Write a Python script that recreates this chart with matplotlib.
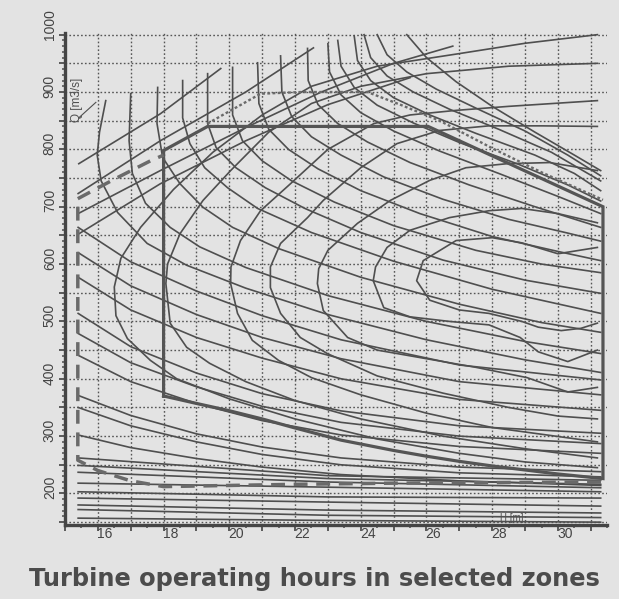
import matplotlib.pyplot as plt
from matplotlib.ticker import MultipleLocator
import matplotlib.transforms as mtransforms

# head H [m] on x, discharge Q [m3/s] on y

# efficiency contours, innermost first
eta1 = [(31.2, 629), (30.0, 618), (28.9, 637), (28.0, 646), (26.9, 641), (25.9, 606), (25.7, 571),
        (26.1, 537), (27.0, 520), (27.9, 514), (28.9, 500), (29.4, 490), (30.1, 484), (30.7, 488), (31.2, 497)]
eta2 = [(31.2, 672), (30.0, 688), (28.9, 697), (27.9, 693), (26.7, 681), (25.5, 659), (24.8, 629),
        (24.45, 595), (24.38, 571), (24.7, 524), (25.5, 508), (26.7, 500), (27.9, 494), (28.85, 472),
        (29.4, 447), (30.3, 430), (31.2, 450)]
eta3 = [(31.2, 763), (29.75, 777), (28.45, 775), (27.2, 768), (26.1, 746), (24.9, 711), (23.9, 671),
        (23.0, 624), (22.72, 592), (22.68, 566), (22.86, 519), (23.6, 472), (24.5, 450), (26.0, 435),
        (27.5, 420), (29.06, 402), (30.3, 377), (31.2, 385)]
eta4 = [(31.2, 840), (29.5, 841), (27.9, 841), (26.4, 833), (25.1, 810), (24.0, 768), (22.86, 711),
        (22.38, 681), (21.56, 636), (21.25, 595), (21.25, 559), (21.56, 514), (22.16, 472), (22.98, 444),
        (24.5, 405), (26.5, 375), (28.5, 350), (30.0, 335), (31.2, 330)]
eta5 = [(31.2, 885), (28.5, 875), (26.9, 868), (25.5, 860), (24.4, 845), (23.0, 800), (21.86, 740),
        (20.95, 693), (20.34, 641), (20.05, 595), (20.04, 566), (20.25, 514), (20.7, 467), (21.5, 432),
        (22.5, 402), (24.0, 372), (26.0, 340), (28.0, 315), (31.2, 290)]
eta6 = [(31.2, 950), (28.5, 945), (26.0, 932), (24.0, 910), (22.5, 880), (21.2, 830), (20.04, 763),
        (19.2, 711), (18.5, 653), (18.12, 600), (18.07, 566), (18.2, 497), (18.7, 455), (19.4, 427),
        (20.5, 395), (22.0, 362), (24.0, 330), (26.5, 300), (29.0, 278), (31.2, 262)]
eta7 = [(31.2, 1000), (29.0, 985), (27.0, 967), (24.5, 945), (22.5, 910), (21.0, 860), (19.5, 795),
        (18.3, 730), (17.3, 664), (16.7, 610), (16.5, 560), (16.55, 510), (16.9, 470), (17.6, 432),
        (18.4, 400), (20.0, 365), (22.0, 330), (24.5, 295), (27.0, 270), (29.0, 255), (31.2, 245)]
eta_curves = [eta1, eta2, eta3, eta4, eta5, eta6, eta7]

# rising guide vane lines, upper left
gv1 = [(15.42, 775), (17.9, 862), (19.74, 941)]
gv2 = [(15.4, 723), (17.9, 815), (20.5, 900), (22.56, 977)]
gv3 = [(15.4, 688), (17.9, 763), (20.5, 838), (22.8, 900), (25.0, 950), (26.8, 980)]
gv4 = [(15.4, 652), (17.9, 740), (20.5, 815), (23.0, 878), (25.5, 925)]
gv_lines = [gv1, gv2, gv3, gv4]

# blade lines: near vertical at the top, then sweeping down to the right
arc1 = [(16.24, 885), (16.05, 830), (15.98, 790), (16.1, 745), (16.6, 690), (17.5, 636), (18.7, 598),
        (20.5, 558), (23.0, 512), (26.0, 468), (29.0, 433), (31.3, 411)]
arc2 = [(17.0, 897), (16.95, 815), (17.05, 758), (17.45, 706), (18.2, 664), (19.1, 630), (20.5, 594),
        (23.0, 545), (26.0, 500), (29.0, 465), (31.3, 444)]
arc3 = [(17.82, 908), (17.8, 845), (17.97, 786), (18.5, 740), (19.2, 699), (20.1, 664), (21.5, 627),
        (24.0, 577), (27.0, 530), (29.5, 498), (31.3, 481)]
arc4 = [(18.58, 920), (18.58, 855), (18.8, 810), (19.25, 768), (19.95, 733), (20.86, 697), (22.5, 655),
        (25.0, 605), (28.0, 556), (31.3, 514)]
arc5 = [(19.34, 932), (19.34, 845), (19.6, 803), (20.2, 768), (21.1, 733), (22.3, 697), (24.0, 655),
        (26.5, 607), (29.0, 572), (31.3, 549)]
arc6 = [(20.1, 943), (20.1, 860), (20.4, 815), (21.0, 780), (21.9, 745), (23.2, 708), (25.0, 667),
        (27.5, 624), (29.5, 600), (31.3, 585)]
arc7 = [(20.86, 951), (20.9, 880), (21.2, 835), (21.8, 800), (22.7, 766), (24.0, 728), (25.8, 688),
        (28.0, 648), (30.0, 622), (31.3, 606)]
arc8 = [(21.56, 963), (21.6, 900), (21.9, 857), (22.5, 822), (23.4, 790), (24.7, 752), (26.5, 713),
        (28.5, 678), (30.3, 654), (31.3, 640)]
arc9 = [(22.38, 976), (22.4, 920), (22.7, 878), (23.3, 845), (24.2, 813), (25.5, 777), (27.3, 738),
        (29.3, 700), (31.3, 664)]
arc10 = [(23.0, 984), (23.05, 935), (23.4, 895), (24.0, 864), (25.0, 832), (26.4, 797), (28.2, 758),
         (30.0, 718), (31.3, 688)]
arc11 = [(23.3, 990), (23.4, 945), (23.8, 908), (24.5, 877), (25.6, 846), (27.0, 812), (28.8, 774),
         (30.3, 738), (31.3, 710)]
arc12 = [(23.8, 998), (23.9, 955), (24.3, 920), (25.0, 890), (26.1, 860), (27.5, 828), (29.3, 790),
         (30.5, 758), (31.3, 728)]
arc13 = [(24.1, 1000), (24.3, 960), (24.8, 928), (25.6, 900), (26.7, 870), (28.2, 835), (29.8, 795),
         (31.3, 745)]
arc14 = [(24.5, 1000), (24.8, 965), (25.4, 935), (26.3, 905), (27.5, 872), (29.0, 832), (30.3, 790),
         (31.3, 754)]
arc15 = [(25.4, 1000), (26.0, 960), (26.9, 918), (28.0, 875), (29.3, 830), (30.5, 790), (31.3, 763)]
arc_lines = [arc1, arc2, arc3, arc4, arc5, arc6, arc7, arc8, arc9, arc10, arc11, arc12, arc13, arc14, arc15]

# falling lines entering from the left edge
fall_h = [15.4, 17.0, 19.0, 21.0, 23.4, 27.0, 31.3]
fall1 = [664, 604, 553, 510, 468, 424, 398]
fall2 = [620, 562, 512, 472, 435, 395, 372]
fall3 = [577, 520, 472, 436, 400, 364, 345]
fall4 = [514, 456, 410, 374, 344, 318, 305]
fall5 = [479, 428, 386, 352, 324, 300, 287]
fall6 = [441, 395, 357, 327, 302, 282, 270]
fall7 = [371, 336, 304, 281, 262, 246, 238]
fall8 = [350, 318, 290, 268, 250, 236, 229]
fall9 = [302, 280, 261, 246, 233, 222, 214]
fall_lines = [fall1, fall2, fall3, fall4, fall5, fall6, fall7, fall8, fall9]

# flat bundle near the bottom
low_h = [15.4, 23.0, 31.3]
low1 = [262, 231, 223]
low2 = [249, 226, 216]
low3 = [237, 220, 210]
low4 = [218, 211, 203]
low5 = [203, 194, 192]
low6 = [192, 185, 178]
low7 = [180, 171, 166]
low8 = [172, 162, 158]
low9 = [157, 153, 150]
low_lines = [low1, low2, low3, low4, low5, low6, low7, low8, low9]

# selected operating zones
zone_h = [18.0, 18.0, 19.34, 26.05, 31.37, 31.37, 30.0, 29.0, 28.0, 27.0, 26.0, 25.0, 23.4, 21.95,
          21.0, 19.95, 19.0, 18.0]
zone_q = [370, 798, 840, 840, 700, 226, 234, 241, 248, 256, 265, 275, 293, 315, 330, 345, 357, 370]
wide_h = [15.39, 15.39, 16.0, 17.0, 18.0, 20.0, 22.0, 25.0, 28.0, 31.37]
wide_q = [700, 258, 240, 222, 212, 214, 216, 218, 219, 220]
wide_top_h = [15.39, 16.5, 17.6, 18.0]
wide_top_q = [714, 748, 780, 790]
limit_h = [19.34, 19.8, 20.3, 20.95, 22.2, 24.2, 25.2, 26.4, 28.0, 29.5, 31.37]
limit_q = [845, 860, 876, 897, 900, 900, 878, 850, 802, 760, 712]

x_labels = [16, 18, 20, 22, 24, 26, 28, 30]
y_labels = [200, 300, 400, 500, 600, 700, 800, 900, 1000]

bg = '#e3e3e3'
ink = '#4f4f4f'

fig = plt.figure(figsize=(6.19, 5.99), dpi=100, facecolor=bg)
ax = fig.add_axes([0.105, 0.1235, 0.876, 0.8215])
ax.set_facecolor(bg)
ax.set_xlim(15.0, 31.5)
ax.set_ylim(145, 1003)

ax.xaxis.set_major_locator(MultipleLocator(1))
ax.xaxis.set_minor_locator(MultipleLocator(0.5))
ax.yaxis.set_major_locator(MultipleLocator(50))
ax.yaxis.set_minor_locator(MultipleLocator(10))
ax.grid(True, which='major', linestyle=(0, (1.2, 1.6)), color='#555555', linewidth=1.0)
ax.set_axisbelow(True)
ax.tick_params(which='both', direction='out', color=ink, labelleft=False, labelbottom=False)
ax.tick_params(which='major', length=4, width=1.3)
ax.tick_params(which='minor', length=2.5, width=1.1)
for s in ['top', 'right']:
    ax.spines[s].set_visible(False)
for s in ['left', 'bottom']:
    ax.spines[s].set_linewidth(2.4)
    ax.spines[s].set_color('#454545')

lw = 1.2
for c in eta_curves:
    ax.plot([p[0] for p in c], [p[1] for p in c], color=ink, lw=lw)
for c in gv_lines:
    ax.plot([p[0] for p in c], [p[1] for p in c], color=ink, lw=lw)
for c in arc_lines:
    ax.plot([p[0] for p in c], [p[1] for p in c], color=ink, lw=lw)
for c in fall_lines:
    ax.plot(fall_h, c, color=ink, lw=lw)
for c in low_lines:
    ax.plot(low_h, c, color=ink, lw=lw)

ax.plot(zone_h, zone_q, color='#555555', lw=2.3, solid_joinstyle='miter')
ax.plot(wide_h, wide_q, color='#6a6a6a', lw=2.5, linestyle=(0, (4, 2.5)))
ax.plot(wide_top_h, wide_top_q, color='#6a6a6a', lw=2.5, linestyle=(0, (4, 2.5)))
ax.plot(limit_h, limit_q, color='#6a6a6a', lw=1.7, linestyle=(0, (1.2, 1.0)))

# axis texts
ytr = mtransforms.blended_transform_factory(ax.transAxes, ax.transData)
for v in y_labels:
    ax.text(-0.028, v - 10, str(v), rotation=90, ha='center', va='bottom', transform=ytr,
            fontsize=10, color='#444444', family='Liberation Sans')
xtr = mtransforms.blended_transform_factory(ax.transData, ax.transAxes)
for v in x_labels:
    ax.text(v + 0.21, -0.004, str(v), ha='center', va='top', transform=xtr,
            fontsize=10, color='#444444', family='Liberation Sans')

ax.text(15.36, 887, 'Q [m3/s]', rotation=90, ha='center', va='center', fontsize=8.5,
        color=ink, family='Liberation Sans')
ax.plot([15.42, 15.94], [855, 882], color=ink, lw=0.8)
ax.text(28.6, 158, 'H [m]', ha='center', va='center', fontsize=7, color=ink, family='Liberation Sans')

fig.text(29 / 619, 1 - 579 / 599, 'Turbine operating hours in selected zones', ha='left', va='center',
         fontsize=17.4, fontweight='bold', color='#4c4c4c', family='DejaVu Sans')

fig.savefig('out.png', dpi=100, facecolor=bg)
